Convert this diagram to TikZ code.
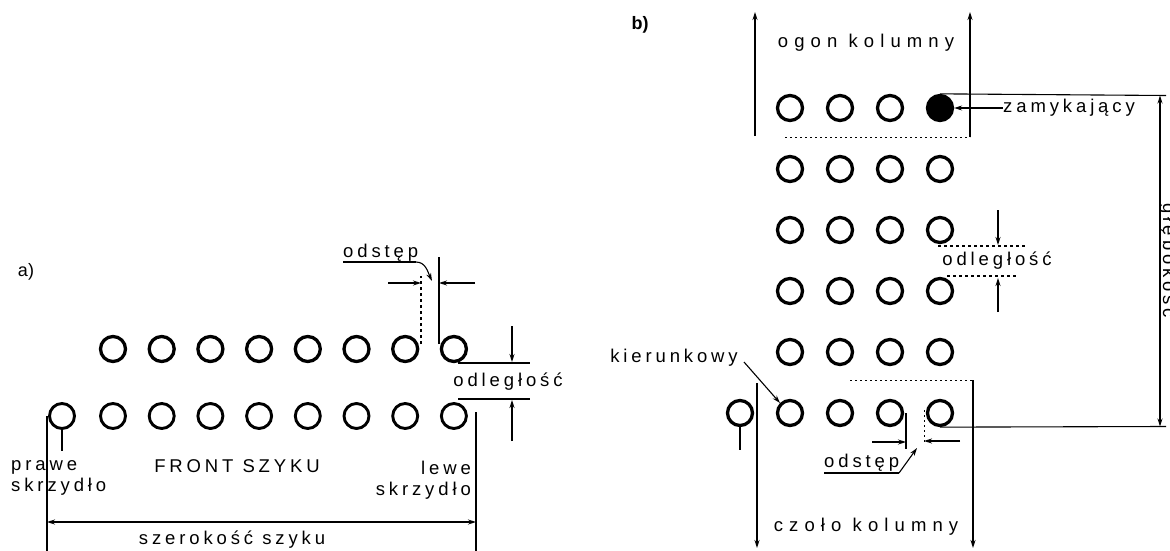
\documentclass[tikz,border=0pt]{standalone}
\usepackage{fontspec}
\setmainfont{Liberation Sans}
\newfontfamily\lsA[LetterSpace=21]{Liberation Sans}
\newfontfamily\lsB[LetterSpace=33]{Liberation Sans}
\usetikzlibrary{arrows.meta}
\begin{document}
\begin{tikzpicture}[x=1pt,y=-1pt,
  man/.style={circle, draw, line width=3.3pt, minimum size=25pt, inner sep=0pt},
  txt/.style={font=\lsA\fontsize{18.5}{21}\selectfont, inner sep=0pt},
  wide/.style={font=\lsB\fontsize{18.5}{21}\selectfont, inner sep=0pt},
  thin/.style={line width=1.1pt},
  arr/.style={thin, -{Stealth[length=8pt,width=5pt]}},
  darr/.style={thin, {Stealth[length=8pt,width=5pt]}-{Stealth[length=8pt,width=5pt]}},
  dots/.style={line width=0.9pt, dash pattern=on 2pt off 3pt},
  stem/.style={line width=2.6pt}]
\useasboundingbox (0,0) rectangle (1170,551);
% ---------------- part a ----------------
\node[font=\fontsize{18}{21}\selectfont, inner sep=0pt] (la) at (26,272) {a)};
\foreach \i [count=\k] in {0,...,7} {
  \node[man] (t\k) at ({113+48.7*\i},349) {};
  \node[man, line width=2.9pt] (b\k) at ({113+48.7*\i},416) {};
}
\node[man, line width=2.9pt] (b0) at (62,416) {};
\coordinate (s0) at (62,451);
\draw[stem] (b0.south) -- (s0);
% side lines and width
\coordinate (aL1) at (47,416); \coordinate (aL2) at (47,551);
\coordinate (aR1) at (476,412); \coordinate (aR2) at (476,551);
\draw[thin] (aL1) -- (aL2);
\draw[thin] (aR1) -- (aR2);
\coordinate (wL) at (47,522); \coordinate (wR) at (476,522);
\draw[darr] (wL) -- (wR);
\node[txt, align=left, anchor=west] (prawe) at (11,478) {prawe\\skrzydło};
\node[txt] (front) at (237,466) {FRONT SZYKU};
\node[txt, align=right, anchor=east] (lewe) at (471,480) {lewe\\skrzydło};
\node[txt] (szer) at (232,540) {szerokość szyku};
% odstep a
\node[txt, anchor=base west] (odA) at (343,257) {odstęp};
\coordinate (uA1) at (343,262); \coordinate (uA2) at (416,262);
\coordinate (oA) at (432,281);
\draw[thin] (uA1) -- (uA2);
\draw[arr] (uA2) to[out=0,in=115] (oA);
\coordinate (eA1) at (421,344); \coordinate (eA2) at (421,276);
\coordinate (eB1) at (439,344); \coordinate (eB2) at (439,257);
\draw[thin, dashed] (eA1) -- (eA2);
\draw[thin] (eB1) -- (eB2);
\coordinate (hA1) at (388,283); \coordinate (hA2) at (421,283);
\coordinate (hB1) at (475,283); \coordinate (hB2) at (439,283);
\draw[arr] (hA1) -- (hA2);
\draw[arr] (hB1) -- (hB2);
% odleglosc a
\coordinate (vA1) at (512,326); \coordinate (vA2) at (512,362);
\coordinate (vB1) at (512,441); \coordinate (vB2) at (512,400);
\coordinate (lA1) at (458,363); \coordinate (lA2) at (530,363);
\coordinate (lB1) at (458,399); \coordinate (lB2) at (530,399);
\draw[arr] (vA1) -- (vA2);
\draw[thin] (lA1) -- (lA2);
\draw[thin] (lB1) -- (lB2);
\draw[arr] (vB1) -- (vB2);
\node[txt] (odlA) at (508,382) {odległość};
% ---------------- part b ----------------
\node[font=\bfseries\fontsize{18}{21}\selectfont, inner sep=0pt] (lb) at (640,25) {b)};
\foreach \r/\y in {2/169,3/230,4/291,5/352,6/413} {
  \foreach \c/\x in {1/790,2/840,3/890,4/940} {
    \node[man] (c\r\c) at (\x,\y) {};
  }
}
\node[man] (c11) at (790,108) {};
\node[man] (c12) at (840,108) {};
\node[man] (c13) at (890,108) {};
\node[man, fill=black] (c14) at (940,108) {};
\node[man] (k0) at (740,413) {};
\coordinate (s1) at (740,450);
\draw[stem] (k0.south) -- (s1);
% tail of column
\coordinate (tL1) at (755,136); \coordinate (tL2) at (755,12);
\coordinate (tR1) at (970,137); \coordinate (tR2) at (970,12);
\draw[arr] (tL1) -- (tL2);
\draw[arr] (tR1) -- (tR2);
\coordinate (tD1) at (785,137);
\draw[dots] (tD1) -- (tR1);
\node[wide] (ogon) at (866,43) {ogon kolumny};
% closing man
\node[txt, anchor=west] (zam) at (1003,108) {zamykający};
\draw[arr] (zam.west) -- (c14.east);
% depth
\coordinate (gT) at (1166,95.5); \coordinate (gB) at (1166,426.5);
\coordinate (gT2) at (1160,95.5); \coordinate (gB2) at (1160,426.5);
\draw[thin] (c14.north) -- (gT);
\draw[thin] (c64.south) -- (gB);
\draw[darr] (gT2) -- (gB2);
\node[txt, rotate=-90, anchor=base] (glab) at (1163,261) {głębokość};
% head of column
\coordinate (hL1) at (757,383); \coordinate (hL2) at (757,548);
\coordinate (hR1) at (973,380); \coordinate (hR2) at (973,548);
\draw[arr] (hL1) -- (hL2);
\draw[line width=2.2pt, -{Stealth[length=8pt,width=5pt]}] (hR1) -- (hR2);
\coordinate (hD1) at (850,380);
\draw[dots] (hD1) -- (hR1);
\node[wide] (czolo) at (866,527) {czoło kolumny};
% odstep b
\coordinate (xA1) at (906,413); \coordinate (xA2) at (906,449);
\coordinate (xB1) at (924,410); \coordinate (xB2) at (924,442);
\draw[thin] (xA1) -- (xA2);
\draw[dots] (xB1) -- (xB2);
\coordinate (yA1) at (872,442); \coordinate (yA2) at (906,442);
\coordinate (yB1) at (960,441); \coordinate (yB2) at (924,441);
\draw[arr] (yA1) -- (yA2);
\draw[arr] (yB1) -- (yB2);
\node[txt, anchor=base west] (odB) at (824,467) {odstęp};
\coordinate (uB1) at (824,473); \coordinate (uB2) at (899,473);
\coordinate (oB) at (917,448);
\draw[thin] (uB1) -- (uB2);
\draw[arr] (uB2) -- (oB);
% kierunkowy
\node[txt] (kier) at (674,358) {kierunkowy};
\coordinate (kA) at (744,362);
\draw[arr] (kA) -- (c61.north west);
% odleglosc b
\coordinate (wA1) at (998,210); \coordinate (wA2) at (998,245);
\coordinate (wB1) at (998,312); \coordinate (wB2) at (998,278);
\coordinate (mA1) at (938,246); \coordinate (mA2) at (1027,246);
\coordinate (mB1) at (947,276); \coordinate (mB2) at (1017,276);
\draw[arr] (wA1) -- (wA2);
\draw[thin, dashed] (mA1) -- (mA2);
\draw[thin, dashed] (mB1) -- (mB2);
\draw[arr] (wB1) -- (wB2);
\node[txt] (odlB) at (997,261) {odległość};
\end{tikzpicture}
\end{document}
